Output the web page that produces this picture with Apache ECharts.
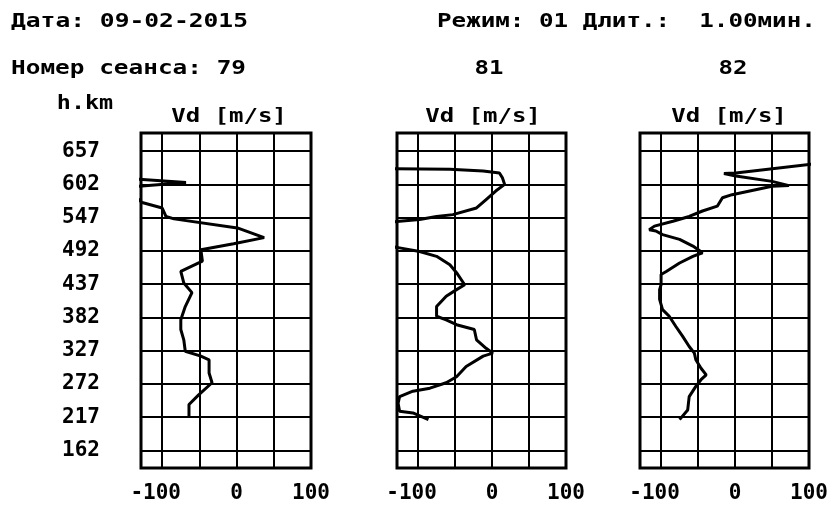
<!DOCTYPE html>
<html>
<head>
<meta charset="utf-8">
<script src="https://cdn.jsdelivr.net/npm/echarts@6/dist/echarts.min.js"></script>
<style>
html,body{margin:0;padding:0;background:#fff;}
#chart{width:836px;height:507px;}
</style>
</head>
<body>
<div id="chart"></div>
<script>
// ---- data ----
const heightTicks = [162, 217, 272, 327, 382, 437, 492, 547, 602, 657];
const vdTicks = [-100, -50, 0, 50, 100];
const vdLabels = [-100, 0, 100];
const sessions = ['79', '81', '82'];

const h79 = [612,605,597,572,563,549,545,530,514,504,494,475,458,439,423,400,378,362,345,326,318,312,290,274,254,238,216];
const vd79 = [-150,-68,-150,-127,-100,-95,-84,1,37,-4,-48,-46,-75,-71,-60,-69,-75,-75,-71,-69,-48,-37,-37,-33,-51,-64,-64];

const h81 = [628,627,624,621,613,602,591,577,563,552,549,544,541,538,502,497,491,483,469,456,436,428,417,400,384,378,370,362,345,331,323,318,301,284,274,265,260,251,240,227,224,213];
const vd81 = [-140,-57,-12,10,14,17,5,-8,-21,-53,-75,-98,-125,-150,-150,-125,-98,-75,-57,-48,-37,-48,-62,-75,-75,-62,-48,-24,-21,-8,1,-12,-35,-48,-62,-84,-107,-125,-127,-125,-107,-86];

const h82 = [637,621,620,616,607,600,599,585,580,566,558,549,541,533,527,525,519,511,500,489,483,472,458,453,436,428,412,395,384,367,351,334,323,312,298,287,279,268,251,229,213];
const vd82 = [115,1,-15,1,50,73,50,-4,-17,-24,-44,-62,-84,-109,-116,-107,-98,-75,-57,-44,-57,-75,-93,-100,-100,-102,-102,-98,-89,-80,-71,-62,-55,-53,-46,-39,-46,-53,-62,-64,-75];

const profiles = [[vd79, h79], [vd81, h81], [vd82, h82]];

// ---- layout ----
const FONT = 'bold 20px "DejaVu Sans Mono"';
const panelLeft = [141, 397, 640];
const panelWidth = [170, 169, 169];
const panelTop = 133, panelHeight = 335;
const X_MIN = -128.5, X_MAX = 100, Y_MIN = 133, Y_MAX = 687;

const chart = echarts.init(document.getElementById('chart'), null, {renderer: 'canvas'});

const grids = [], xAxes = [], yAxes = [], series = [];
for (let i = 0; i < 3; i++) {
  grids.push({left: panelLeft[i], top: panelTop, width: panelWidth[i], height: panelHeight,
    show: true, borderColor: '#000', borderWidth: 3, backgroundColor: 'transparent'});
  xAxes.push({
    gridIndex: i, type: 'value', min: X_MIN, max: X_MAX,
    axisLine: {show: false},
    axisTick: {show: false, customValues: vdTicks},
    splitLine: {show: true, lineStyle: {color: '#000', width: 2}},
    axisLabel: {
      customValues: vdLabels, margin: 15, color: '#000',
      fontFamily: 'DejaVu Sans Mono', fontWeight: 'bold', fontSize: 21,
      formatter: v => v < 0 ? '{n|' + v + '}' : String(v),
      rich: {n: {fontFamily: 'DejaVu Sans Mono', fontWeight: 'bold', fontSize: 21, color: '#000', padding: [0, 13, 0, 0]}}
    }
  });
  yAxes.push({
    gridIndex: i, type: 'value', min: Y_MIN, max: Y_MAX,
    axisLine: {show: false},
    axisTick: {show: false, customValues: heightTicks},
    splitLine: {show: true, lineStyle: {color: '#000', width: 2}},
    axisLabel: {
      show: i === 0, customValues: heightTicks, margin: 41, color: '#000',
      fontFamily: 'DejaVu Sans Mono', fontWeight: 'bold', fontSize: 21
    }
  });
  const [vd, h] = profiles[i];
  series.push({
    type: 'line', xAxisIndex: i, yAxisIndex: i,
    data: h.map((hv, k) => [vd[k], hv]),
    showSymbol: false, clip: true, smooth: false,
    lineStyle: {color: '#000', width: 3},
    z: 5
  });
}

function txt(text, x, y, align, sx) {
  return {type: 'text', x: x, y: y, scaleX: sx, z: 10,
    style: {text: text, font: FONT, fill: '#000', textAlign: align, textVerticalAlign: 'middle'}};
}

chart.setOption({
  animation: false,
  backgroundColor: '#fff',
  grid: grids, xAxis: xAxes, yAxis: yAxes, series: series,
  graphic: [
    txt('Дата: 09-02-2015', 11, 22, 'left', 1.23),
    txt('Режим: 01 Длит.:  1.00мин.', 437, 22, 'left', 1.21),
    txt('Номер сеанса: ' + sessions[0], 11, 69, 'left', 1.22),
    txt(sessions[1], 489, 69, 'center', 1.2),
    txt(sessions[2], 733, 69, 'center', 1.2),
    txt('h.km', 85, 104, 'center', 1.17),
    txt('Vd [m/s]', 229, 117, 'center', 1.2),
    txt('Vd [m/s]', 483, 117, 'center', 1.2),
    txt('Vd [m/s]', 729, 117, 'center', 1.2)
  ]
});
</script>
</body>
</html>
